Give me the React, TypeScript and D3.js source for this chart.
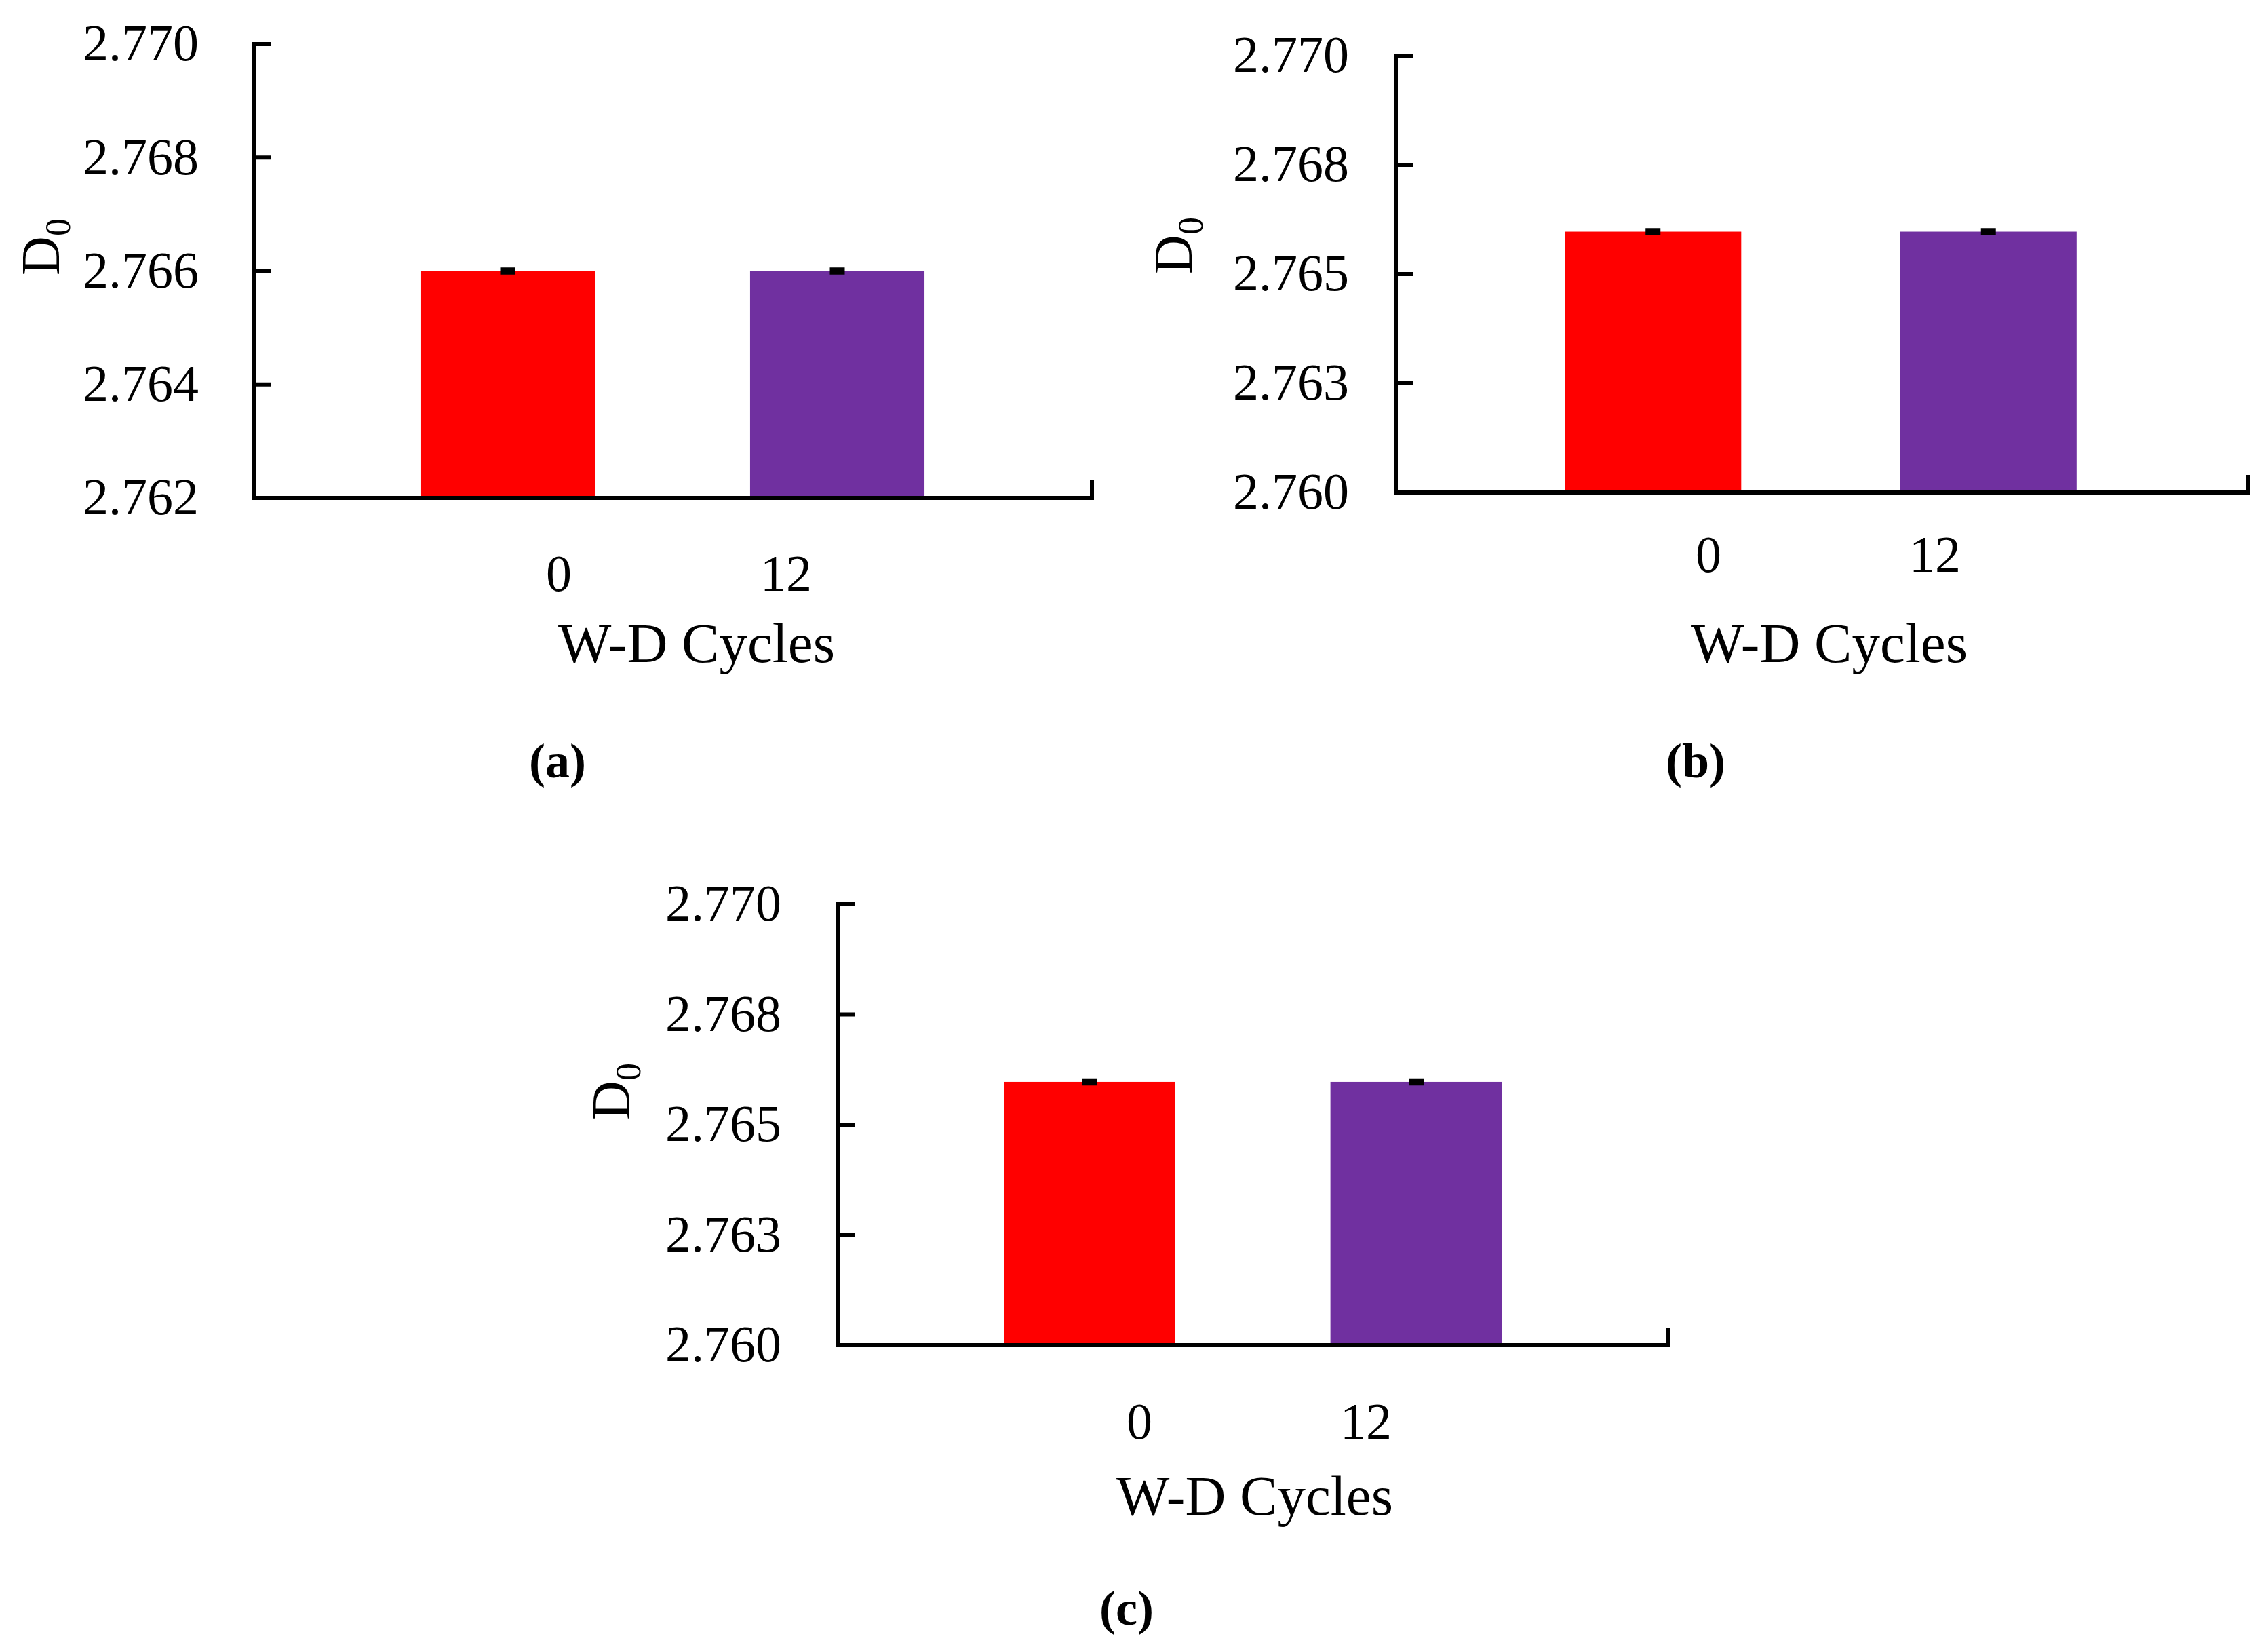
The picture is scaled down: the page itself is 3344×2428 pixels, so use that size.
import React from "react";
import * as d3 from "d3";

// ---- data ----
const categories = ["0", "12"];
const valuesA = [2.766, 2.766];
const valuesB = [2.76597, 2.76597];
const valuesC = [2.76597, 2.76597];
const errorsA = [0.000012, 0.000012];
const errorsB = [0.000015, 0.000015];
const errorsC = [0.000015, 0.000015];
const domainA = [2.762, 2.77];
const domainBC = [2.76, 2.77];
const ticksA = [2.762, 2.764, 2.766, 2.768, 2.77];
const tickLabelsA = ["2.762", "2.764", "2.766", "2.768", "2.770"];
const ticksBC = [2.76, 2.7625, 2.765, 2.7675, 2.77];
const tickLabelsBC = ["2.760", "2.763", "2.765", "2.768", "2.770"];
const barColors = ["#FF0000", "#7030A0"];
const panelLabels = ["(a)", "(b)", "(c)"];
const xTitle = "W-D Cycles";
const yTitleMain = "D";
const yTitleSub = "0";

// ---- layout (positions only) ----
const FONT = "'Palatino Linotype', 'Book Antiqua', Palatino, 'Liberation Serif', serif";
const AXIS_W = 6;

type Layout = {
  yAxisX: number;
  yRange: [number, number];
  xEnd: number;
  bandRange: [number, number];
  pad: number;
  labelRange: [number, number];
  tickGap: number;
  xTickBaseline: number;
  titleX: number;
  titleBaseline: number;
  panelX: number;
  panelBaseline: number;
  yTitleX: number;
  yTitleY: number;
};

const layouts: Layout[] = [
  {
    yAxisX: 375, yRange: [734, 65], xEnd: 1610, bandRange: [505.5, 1477.5], pad: 0.471,
    labelRange: [824, 1159], tickGap: 82, xTickBaseline: 871, titleX: 1027, titleBaseline: 976,
    panelX: 822, panelBaseline: 1146, yTitleX: 87, yTitleY: 364,
  },
  {
    yAxisX: 2058, yRange: [726, 82], xEnd: 3314, bandRange: [2190, 3179], pad: 0.474,
    labelRange: [2519, 2853], tickGap: 69, xTickBaseline: 843, titleX: 2697, titleBaseline: 976,
    panelX: 2500, panelBaseline: 1146, yTitleX: 1757, yTitleY: 362,
  },
  {
    yAxisX: 1236, yRange: [1983, 1333], xEnd: 2459, bandRange: [1365.75, 2328.75], pad: 0.475,
    labelRange: [1680, 2014], tickGap: 84, xTickBaseline: 2121, titleX: 1850, titleBaseline: 2233,
    panelX: 1661, panelBaseline: 2395, yTitleX: 928, yTitleY: 1609,
  },
];

const panelData = [
  { values: valuesA, errors: errorsA, domain: domainA, ticks: ticksA, tickLabels: tickLabelsA },
  { values: valuesB, errors: errorsB, domain: domainBC, ticks: ticksBC, tickLabels: tickLabelsBC },
  { values: valuesC, errors: errorsC, domain: domainBC, ticks: ticksBC, tickLabels: tickLabelsBC },
];

function Panel({ idx }: { idx: number }) {
  const L = layouts[idx];
  const D = panelData[idx];
  const y = d3.scaleLinear().domain(D.domain).range(L.yRange);
  const x = d3
    .scaleBand<string>()
    .domain(categories)
    .range(L.bandRange)
    .paddingInner(L.pad)
    .paddingOuter(L.pad / 2);
  const xl = d3.scalePoint<string>().domain(categories).range(L.labelRange);
  const y0 = y(D.domain[0]);
  const yTop = y(D.domain[1]);
  const tickLen = 25;
  const capW = 22;

  return (
    <g>
      {/* bars */}
      {categories.map((c, i) => (
        <rect
          key={"bar" + c}
          x={x(c)}
          y={y(D.values[i])}
          width={x.bandwidth()}
          height={y0 - y(D.values[i])}
          fill={barColors[i]}
        />
      ))}
      {/* error bars */}
      {categories.map((c, i) => {
        const cx = (x(c) as number) + x.bandwidth() / 2;
        const yHi = y(D.values[i] + D.errors[i]);
        const yLo = y(D.values[i] - D.errors[i]);
        return (
          <path
            key={"err" + c}
            d={`M${cx - capW / 2},${yHi}H${cx + capW / 2}M${cx},${yHi}V${yLo}M${cx - capW / 2},${yLo}H${cx + capW / 2}`}
            stroke="#000"
            strokeWidth={8.5}
            fill="none"
          />
        );
      })}
      {/* y axis */}
      <line x1={L.yAxisX} x2={L.yAxisX} y1={yTop - AXIS_W / 2} y2={y0 + AXIS_W / 2} stroke="#000" strokeWidth={AXIS_W} />
      {D.ticks.map((t, i) => (
        <g key={"yt" + i}>
          <line x1={L.yAxisX} x2={L.yAxisX + tickLen} y1={y(t)} y2={y(t)} stroke="#000" strokeWidth={AXIS_W} />
          <text
            x={L.yAxisX - L.tickGap}
            y={y(t)}
            dy="0.32em"
            textAnchor="end"
            fontFamily={FONT}
            fontSize={76}
            fill="#000"
          >
            {D.tickLabels[i]}
          </text>
        </g>
      ))}
      {/* x axis */}
      <line x1={L.yAxisX} x2={L.xEnd + AXIS_W / 2} y1={y0} y2={y0} stroke="#000" strokeWidth={AXIS_W} />
      <line x1={L.xEnd} x2={L.xEnd} y1={y0} y2={y0 - 26} stroke="#000" strokeWidth={AXIS_W} />
      {categories.map((c) => (
        <text
          key={"xt" + c}
          x={xl(c)}
          y={L.xTickBaseline}
          textAnchor="middle"
          fontFamily={FONT}
          fontSize={76}
          fill="#000"
        >
          {c}
        </text>
      ))}
      <text x={L.titleX} y={L.titleBaseline} textAnchor="middle" fontFamily={FONT} fontSize={83} fill="#000">
        {xTitle}
      </text>
      <text
        transform={`translate(${L.yTitleX},${L.yTitleY}) rotate(-90)`}
        textAnchor="middle"
        fontFamily={FONT}
        fontSize={80}
        fill="#000"
      >
        {yTitleMain}
        <tspan fontSize={52} dy={16}>
          {yTitleSub}
        </tspan>
      </text>
      <text
        x={L.panelX}
        y={L.panelBaseline}
        textAnchor="middle"
        fontFamily={FONT}
        fontSize={72}
        fontWeight="bold"
        fill="#000"
      >
        {panelLabels[idx]}
      </text>
    </g>
  );
}

export default function App() {
  return (
    <div style={{ position: "absolute", left: 0, top: 0 }}>
      <svg width={3344} height={2428} viewBox="0 0 3344 2428" style={{ display: "block", background: "#fff" }}>
        <rect x={0} y={0} width={3344} height={2428} fill="#fff" />
        {layouts.map((_, i) => (
          <Panel key={i} idx={i} />
        ))}
      </svg>
    </div>
  );
}
